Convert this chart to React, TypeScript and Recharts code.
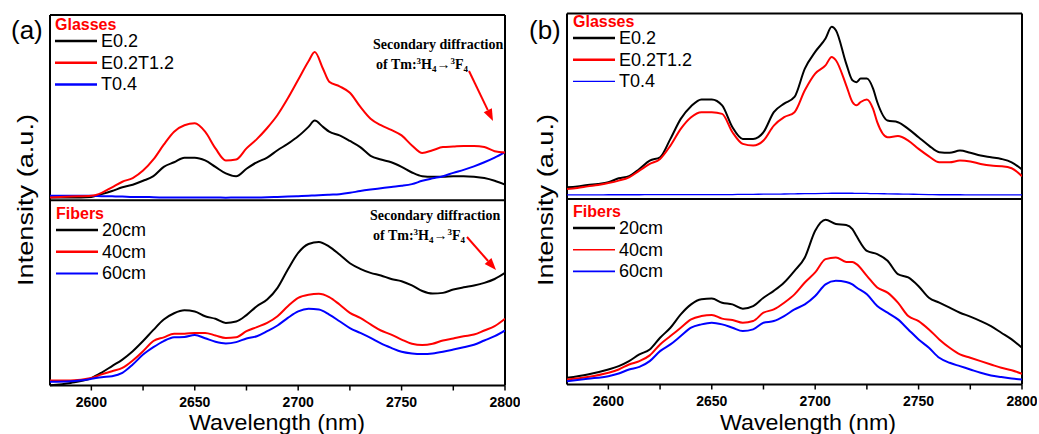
import React from "react";
import { LineChart, Line, XAxis, YAxis, ReferenceLine } from "recharts";

// shared x ticks (minor every 25 nm, labelled every 50 nm)
const TICKS = [2600, 2625, 2650, 2675, 2700, 2725, 2750, 2775, 2800];

// ---- (a) Glasses ----
const WL_A_GLASS = [
  2580, 2590, 2600, 2605, 2610, 2615, 2620, 2625, 2630, 2635, 2640, 2645, 2650, 2655, 2660,
  2665, 2670, 2675, 2680, 2685, 2690, 2695, 2700, 2705, 2708, 2712, 2715, 2720, 2725, 2730,
  2735, 2740, 2745, 2750, 2755, 2760, 2765, 2770, 2775, 2780, 2785, 2790, 2795, 2800,
];
const A_GLASS_E02 = [
  1.5, 1.5, 1.8, 3.3, 5, 7, 8.4, 10.5, 13, 18, 20.5, 23, 23, 21.5, 18, 14.5, 13, 17, 20.5, 23,
  27, 30.5, 34.5, 39.6, 43, 39.6, 37, 35, 32, 28.7, 24, 22, 20.5, 18, 15, 13, 12.7, 12.7, 13,
  13, 12.7, 12, 10.5, 8.4,
];
const A_GLASS_E02T12 = [
  1.5, 2, 2.4, 4, 7, 10, 12, 16, 22, 30, 37, 40.5, 41.5, 37, 28, 21.5, 22, 28, 33, 39, 46, 55,
  65, 75, 80, 71, 64, 61.5, 58, 50.5, 44, 40.5, 38, 35, 29.6, 25.5, 27, 28.7, 29, 29.3, 29.3,
  28.7, 26.5, 25.8,
];
const A_GLASS_T04 = [
  2.4, 2.4, 2.4, 2.2, 2.1, 2, 1.8, 1.8, 1.6, 1.5, 1.5, 1.5, 1.5, 1.5, 1.5, 1.4, 1.5, 1.5, 1.5,
  1.6, 1.8, 2, 2.2, 2.4, 2.6, 2.8, 3, 3.3, 4, 5, 5.8, 6.5, 7.2, 7.8, 8.7, 10.5, 11.8, 13, 14.8,
  16.4, 18.3, 20.5, 23, 26,
];

// ---- (a) Fibers ----
const WL_A_FIBER = [
  2580, 2590, 2600, 2605, 2610, 2615, 2620, 2625, 2630, 2635, 2640, 2645, 2650, 2655, 2660,
  2665, 2670, 2675, 2680, 2685, 2690, 2695, 2700, 2705, 2710, 2715, 2720, 2725, 2730, 2735,
  2740, 2745, 2750, 2755, 2760, 2765, 2770, 2775, 2780, 2785, 2790, 2795, 2800,
];
const A_FIBER_20 = [
  0.2, 1.4, 4, 7, 10.5, 14, 18.5, 24, 30, 35.6, 39, 40.6, 40, 37.4, 36, 33.8, 34.5, 38, 42.8,
  46.4, 52.7, 62.6, 71.6, 76.4, 77.5, 75, 70.7, 66, 63, 60.8, 59.4, 57.5, 56.3, 54, 51, 49.6,
  50, 51.8, 53, 54, 55.4, 57.5, 60.8,
];
const A_FIBER_40 = [
  2.7, 2.7, 4, 6, 7.7, 9.5, 13.5, 18.5, 24, 26, 28, 28, 28.4, 28.4, 27, 25.7, 26, 29.3, 31.5,
  33.8, 37.4, 42.8, 47.3, 49, 49.5, 47.7, 43.7, 39.2, 36.5, 33, 29.7, 27.5, 24.8, 22.5, 21.8,
  22.5, 24.3, 25.4, 26.6, 27.5, 29.7, 32, 36,
];
const A_FIBER_60 = [
  2, 2.3, 3.6, 4.5, 5, 6.8, 11.3, 16.7, 20.7, 24, 26, 26.2, 27.2, 25.5, 23.6, 22.7, 23.4, 25.4,
  26.6, 29.3, 32.4, 36.5, 40, 41.4, 41, 38.3, 34.7, 31, 28.4, 25.7, 22.7, 20.3, 18.2, 17.3, 17,
  17.3, 18.2, 19.4, 20.7, 22, 24.3, 26.6, 29.7,
];

// ---- (b) Glasses ----
const WL_B_GLASS = [
  2580, 2585, 2590, 2595, 2600, 2605, 2610, 2615, 2620, 2625, 2630, 2635, 2640, 2645, 2650,
  2655, 2660, 2665, 2670, 2675, 2680, 2685, 2690, 2695, 2700, 2705, 2708, 2710, 2715, 2718,
  2720, 2722, 2725, 2728, 2730, 2735, 2740, 2745, 2750, 2755, 2760, 2765, 2770, 2775, 2780,
  2785, 2790, 2795, 2800,
];
const B_GLASS_E02 = [
  6.3, 6.8, 7.6, 8.1, 9, 11.2, 12.3, 16.2, 20.7, 22.5, 32.4, 43.2, 50, 53.7, 53.7, 50.5, 38.7,
  32.4, 32.4, 36, 46.8, 51.4, 55, 70.3, 79.3, 86.5, 92.8, 91, 73, 64, 63, 64.9, 64.9, 59.5,
  52.3, 42.3, 41.4, 37.8, 33.3, 28.8, 25.2, 24.9, 26.1, 24.9, 23.4, 22.5, 21.6, 19.8, 15.9,
];
const B_GLASS_E02T12 = [
  5.4, 5.9, 6.8, 7.6, 8.6, 9.9, 11.7, 15.3, 18.9, 21.6, 28.8, 37.8, 44.1, 46.8, 46.8, 45.9, 36,
  29.7, 28.8, 31.5, 39.6, 44.1, 46.8, 58.6, 67.6, 72, 76.6, 74.8, 61.3, 52.3, 50.5, 52.3, 53.7,
  48.6, 41.4, 33.3, 33.9, 31.5, 27, 23, 19.8, 19.8, 20.7, 20.2, 18.9, 18, 17.7, 16.6, 12.3,
];
const B_GLASS_T04 = [
  2.2, 2.2, 2.2, 2.2, 2.3, 2.3, 2.3, 2.3, 2.4, 2.4, 2.4, 2.4, 2.4, 2.4, 2.4, 2.4, 2.4, 2.5, 2.5,
  2.6, 2.6, 2.7, 2.8, 2.9, 2.9, 3, 3.1, 3.1, 3.1, 3.1, 3, 3, 3, 2.9, 2.9, 2.8, 2.7, 2.6, 2.5,
  2.4, 2.3, 2.3, 2.3, 2.2, 2.2, 2.2, 2.2, 2.2, 2.2,
];

// ---- (b) Fibers ----
const WL_B_FIBER = [
  2580, 2590, 2600, 2605, 2610, 2615, 2620, 2625, 2630, 2635, 2640, 2645, 2650, 2655, 2660,
  2665, 2670, 2675, 2680, 2685, 2690, 2695, 2700, 2705, 2710, 2715, 2718, 2720, 2725, 2730,
  2735, 2740, 2745, 2750, 2755, 2760, 2765, 2770, 2775, 2780, 2785, 2790, 2795, 2800,
];
const B_FIBER_20 = [
  3.6, 5.4, 8.1, 9.9, 12.6, 16.2, 18.9, 25.2, 30.6, 37.8, 43.2, 45.9, 46.3, 44.1, 43.2, 40.9,
  42.3, 46.8, 50.5, 55, 61.3, 68.5, 82.9, 88.8, 86.5, 86, 83.8, 80, 72, 70.3, 66.7, 59.5, 57.7,
  53, 46.8, 44.1, 41.4, 38.7, 36.6, 34.2, 31.5, 27.9, 24.3, 19.8,
];
const B_FIBER_40 = [
  2.7, 4, 6.3, 8.1, 10.8, 12.6, 15.7, 21.6, 26.1, 30.6, 35.1, 36.9, 37.5, 35.5, 34.8, 33.3,
  34.2, 38.7, 40.5, 44.1, 48.6, 55, 60.4, 67.6, 68.5, 66.1, 66, 64.9, 58.6, 52.3, 49.5, 44.1,
  36.9, 34.2, 29.7, 24.3, 19.8, 16.2, 14.4, 12.6, 10.8, 9, 7.7, 5.8,
];
const B_FIBER_60 = [
  1.8, 3.1, 4.5, 5.9, 8.1, 9.5, 12.6, 18, 21.6, 26.1, 30.6, 32.4, 33.3, 32.4, 30.6, 28.8, 29.7,
  33.3, 34.2, 36.9, 40.5, 43.2, 47.7, 54, 55.9, 55.3, 54, 52.3, 48.6, 42.3, 38.7, 35.1, 29.7,
  24.3, 19.8, 14.4, 11.7, 9.9, 8.1, 6.3, 4.9, 4, 3.2, 2.7,
];

const GLASS_LABELS = ["E0.2", "E0.2T1.2", "T0.4"];
const FIBER_LABELS = ["20cm", "40cm", "60cm"];
const COLORS = ["#000000", "#ff0000", "#0000ff"];

const SANS = "'Liberation Sans', Arial, sans-serif";
const SERIF = "'Liberation Serif', 'Times New Roman', serif";

type Series = { wl: number[]; values: number[]; color: string; width: number; axis: "g" | "f" };

const toPoints = (wl: number[], values: number[]) => wl.map((x, i) => ({ x, v: values[i] }));

function WaveTick(props: any) {
  const { x, y, payload } = props;
  const major = payload.value % 50 === 0;
  return (
    <g>
      <line x1={x} x2={x} y1={y} y2={y + 5} stroke="#000" strokeWidth={1.5} />
      {major && (
        <text x={x} y={y + 21} textAnchor="middle" fontFamily={SANS} fontWeight="bold" fontSize={14} fill="#000">
          {payload.value}
        </text>
      )}
    </g>
  );
}

function Panel({ left, top, axisH, series }: { left: number; top: number; axisH: number; series: Series[] }) {
  return (
    <div style={{ position: "absolute", left, top: 0 }}>
      <LineChart width={520} height={434} margin={{ top, right: 15, left: 50, bottom: 0 }}>
        <XAxis
          dataKey="x"
          type="number"
          domain={[2580, 2800]}
          allowDataOverflow
          ticks={TICKS}
          interval={0}
          tick={(p: any) => <WaveTick {...p} />}
          tickLine={false}
          tickSize={0}
          tickMargin={0}
          height={axisH}
          axisLine={{ stroke: "#000", strokeWidth: 2 }}
        />
        <YAxis yAxisId="g" domain={[-100, 100]} hide />
        <YAxis yAxisId="f" domain={[0, 200]} hide />
        {/* frame: top edge, glasses/fibers divider, left and right edges */}
        <ReferenceLine yAxisId="g" y={100} stroke="#000" strokeWidth={2} />
        <ReferenceLine yAxisId="g" y={0} stroke="#000" strokeWidth={2} />
        <ReferenceLine yAxisId="g" x={2580} stroke="#000" strokeWidth={2} />
        <ReferenceLine yAxisId="g" x={2800} stroke="#000" strokeWidth={2} />
        {series.map((s, i) => (
          <Line
            key={i}
            yAxisId={s.axis}
            data={toPoints(s.wl, s.values)}
            dataKey="v"
            type="monotone"
            stroke={s.color}
            strokeWidth={s.width}
            dot={false}
            activeDot={false}
            isAnimationActive={false}
          />
        ))}
      </LineChart>
    </div>
  );
}

function LegendBlock({ x, y, title, labels, widths }: { x: number; y: number; title: string; labels: string[]; widths: number[] }) {
  return (
    <g>
      <text x={x} y={y} fontFamily={SANS} fontWeight="bold" fontSize={16} fill="#ff0000">
        {title}
      </text>
      {labels.map((l, i) => (
        <g key={l}>
          <line x1={x} x2={x + 42} y1={y + 11 + i * 21.7} y2={y + 11 + i * 21.7} stroke={COLORS[i]} strokeWidth={widths[i]} />
          <text x={x + 46} y={y + 17 + i * 21.7} fontFamily={SANS} fontSize={18} fill="#000">
            {l}
          </text>
        </g>
      ))}
    </g>
  );
}

function Transition({ x, y }: { x: number; y: number }) {
  return (
    <text x={x} y={y} fontFamily={SERIF} fontWeight="bold" fontSize={14} fill="#000">
      of Tm:
      <tspan fontSize={9} dy={-5}>3</tspan>
      <tspan fontSize={14} dy={5}>H</tspan>
      <tspan fontSize={9} dy={3}>4</tspan>
      <tspan fontSize={14} dy={-3}>→</tspan>
      <tspan fontSize={9} dy={-5}>3</tspan>
      <tspan fontSize={14} dy={5}>F</tspan>
      <tspan fontSize={9} dy={3}>4</tspan>
    </text>
  );
}

function Arrow({ x1, y1, x2, y2 }: { x1: number; y1: number; x2: number; y2: number }) {
  const len = Math.hypot(x2 - x1, y2 - y1);
  const ux = (x2 - x1) / len;
  const uy = (y2 - y1) / len;
  const bx = x2 - ux * 12;
  const by = y2 - uy * 12;
  const px = -uy * 4.5;
  const py = ux * 4.5;
  return (
    <g>
      <line x1={x1} y1={y1} x2={bx} y2={by} stroke="#ff0000" strokeWidth={2} />
      <polygon points={`${x2},${y2} ${bx + px},${by + py} ${bx - px},${by - py}`} fill="#ff0000" />
    </g>
  );
}

export default function App() {
  const seriesA: Series[] = [
    { wl: WL_A_GLASS, values: A_GLASS_E02, color: COLORS[0], width: 2, axis: "g" },
    { wl: WL_A_GLASS, values: A_GLASS_T04, color: COLORS[2], width: 2, axis: "g" },
    { wl: WL_A_GLASS, values: A_GLASS_E02T12, color: COLORS[1], width: 2, axis: "g" },
    { wl: WL_A_FIBER, values: A_FIBER_20, color: COLORS[0], width: 2, axis: "f" },
    { wl: WL_A_FIBER, values: A_FIBER_40, color: COLORS[1], width: 2, axis: "f" },
    { wl: WL_A_FIBER, values: A_FIBER_60, color: COLORS[2], width: 2, axis: "f" },
  ];
  const seriesB: Series[] = [
    { wl: WL_B_GLASS, values: B_GLASS_T04, color: COLORS[2], width: 1.3, axis: "g" },
    { wl: WL_B_GLASS, values: B_GLASS_E02, color: COLORS[0], width: 2, axis: "g" },
    { wl: WL_B_GLASS, values: B_GLASS_E02T12, color: COLORS[1], width: 2, axis: "g" },
    { wl: WL_B_FIBER, values: B_FIBER_20, color: COLORS[0], width: 2, axis: "f" },
    { wl: WL_B_FIBER, values: B_FIBER_40, color: COLORS[1], width: 2, axis: "f" },
    { wl: WL_B_FIBER, values: B_FIBER_60, color: COLORS[2], width: 2, axis: "f" },
  ];

  return (
    <div style={{ position: "absolute", left: 0, top: 0, width: 1039, height: 434, background: "#fff", overflow: "hidden" }}>
      <Panel left={0} top={15} axisH={48.5} series={seriesA} />
      <Panel left={517} top={13.5} axisH={49.5} series={seriesB} />
      <svg width={1039} height={434} style={{ position: "absolute", left: 0, top: 0, pointerEvents: "none" }}>
        {/* panel letters */}
        <text x={11} y={39} fontFamily={SANS} fontSize={26} fill="#000">(a)</text>
        <text x={529} y={39} fontFamily={SANS} fontSize={26} fill="#000">(b)</text>

        {/* axis titles */}
        <text x={277} y={429.5} textAnchor="middle" fontFamily={SANS} fontSize={22} textLength={176} lengthAdjust="spacingAndGlyphs" fill="#000">
          Wavelength (nm)
        </text>
        <text x={808} y={429.5} textAnchor="middle" fontFamily={SANS} fontSize={22} textLength={176} lengthAdjust="spacingAndGlyphs" fill="#000">
          Wavelength (nm)
        </text>
        <text transform="translate(33,200) rotate(-90)" textAnchor="middle" fontFamily={SANS} fontSize={22} textLength={172} lengthAdjust="spacingAndGlyphs" fill="#000">
          Intensity (a.u.)
        </text>
        <text transform="translate(553,200) rotate(-90)" textAnchor="middle" fontFamily={SANS} fontSize={22} textLength={172} lengthAdjust="spacingAndGlyphs" fill="#000">
          Intensity (a.u.)
        </text>

        {/* legends */}
        <LegendBlock x={55} y={30} title="Glasses" labels={GLASS_LABELS} widths={[2.5, 2.5, 2.5]} />
        <LegendBlock x={56} y={219} title="Fibers" labels={FIBER_LABELS} widths={[2.5, 2.5, 2]} />
        <LegendBlock x={573} y={27} title="Glasses" labels={GLASS_LABELS} widths={[2.5, 2.5, 1.3]} />
        <LegendBlock x={573} y={217} title="Fibers" labels={FIBER_LABELS} widths={[2.5, 1.5, 1.8]} />

        {/* secondary diffraction notes */}
        <text x={373} y={49} fontFamily={SERIF} fontWeight="bold" fontSize={14} fill="#000">Secondary diffraction</text>
        <Transition x={376} y={69} />
        <Arrow x1={469} y1={71} x2={493} y2={121} />
        <text x={370} y={220} fontFamily={SERIF} fontWeight="bold" fontSize={14} fill="#000">Secondary diffraction</text>
        <Transition x={373} y={240} />
        <Arrow x1={467} y1={237} x2={496} y2={270} />
      </svg>
    </div>
  );
}
